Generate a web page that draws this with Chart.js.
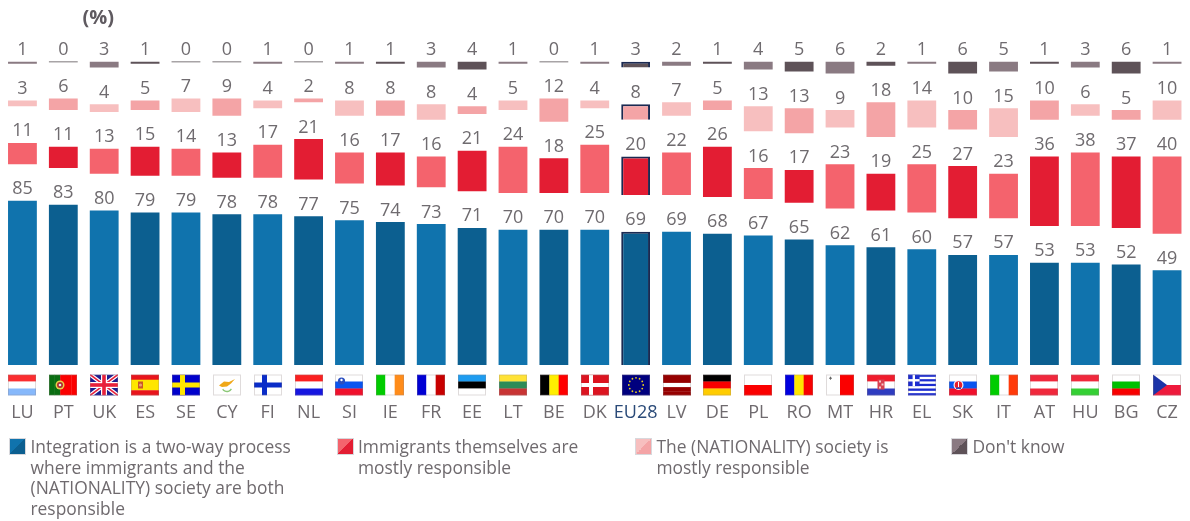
<!DOCTYPE html>
<html>
<head>
<meta charset="utf-8">
<script src="https://cdn.jsdelivr.net/npm/chart.js@4"></script>
<style>
  html, body { margin: 0; padding: 0; background: #fff; }
  #wrap { position: relative; width: 1190px; height: 521px; overflow: hidden; }
  #pct { position: absolute; left: 82.5px; top: 3px; font: bold 20px "Open Sans"; color: #5f5a60; }
  .leg { position: absolute; top: 436px; font: 17.4px/20.5px "Open Sans"; color: #6f6a6e; white-space: nowrap; }
  .leg i { position: absolute; left: -21.5px; top: 2px; width: 15px; height: 15px; border: 1px solid #d8d8dc; }
</style>
</head>
<body>
<div id="wrap">
  <canvas id="chart" width="1190" height="521"></canvas>
  <div id="pct">(%)</div>
</div>
<script>
const countries = ['LU','PT','UK','ES','SE','CY','FI','NL','SI','IE','FR','EE','LT','BE','DK','EU28','LV','DE','PL','RO','MT','HR','EL','SK','IT','AT','HU','BG','CZ']
const twoWay = [85,83,80,79,79,78,78,77,75,74,73,71,70,70,70,69,69,68,67,65,62,61,60,57,57,53,53,52,49]
const immigrants = [11,11,13,15,14,13,17,21,16,17,16,21,24,18,25,20,22,26,16,17,23,19,25,27,23,36,38,37,40]
const society = [3,6,4,5,7,9,4,2,8,8,8,4,5,12,4,8,7,5,13,13,9,18,14,10,15,10,6,5,10]
const dontKnow = [1,0,3,1,0,0,1,0,1,1,3,4,1,0,1,3,2,1,4,5,6,2,1,6,5,1,3,6,1]

const legendTexts = [
  ['Integration is a two-way process','where immigrants and the','(NATIONALITY) society are both','responsible'],
  ['Immigrants themselves are','mostly responsible'],
  ['The (NATIONALITY) society is','mostly responsible'],
  ["Don't know"]
]
const legendLeft = [30.5, 358, 656.5, 972.5]

// light / dark colours, they swap on every second column
const blues = ['#1073ad','#0c5f90']
const reds = ['#f4636d','#e31d33']
const pinks = ['#f7bfbf','#f4a4a6']
const greys = ['#8a7a82','#5e5258']
const zeroLine = '#a8a4a6'
const navy = '#1b2a52'
const euIndex = countries.indexOf('EU28')
// empty band between the stacked parts, in % units
const gap = 19

const band = (label, data, colors) => ({
  label: label,
  data: data,
  stack: 's',
  minBarLength: 1.5,
  backgroundColor: c => data[c.dataIndex] === 0 ? zeroLine : colors[c.dataIndex % 2],
  borderColor: c => c.dataIndex === euIndex ? navy : 'transparent',
  borderWidth: c => c.dataIndex === euIndex ? 2 : 0,
  isBand: true
})
const spacer = () => ({
  data: countries.map(() => gap),
  stack: 's',
  backgroundColor: 'transparent',
  borderWidth: 0
})

//flags, stripes from top to bottom (h) or left to right (v), extra draws the rest
const star = (ctx, x, y, r, col) => {
  ctx.fillStyle = col
  ctx.beginPath()
  ctx.arc(x, y, r, 0, Math.PI * 2)
  ctx.fill()
}
const box = (ctx, col, x, y, w, h) => {
  ctx.fillStyle = col
  ctx.fillRect(x, y, w, h)
}
const crossFlag = (bg, col) => ({
  h: [bg],
  extra: (ctx) => {
    box(ctx, col, 8, 0, 5, 21)
    box(ctx, col, 0, 8, 28, 5)
  }
})
const flags = {
  LU: { h: ['#fb2d30','#ffffff','#86b8fb'] },
  PT: { v: ['#0a6e12','#0a6e12','#fb0000','#fb0000','#fb0000'], extra: (ctx) => {
    star(ctx, 11, 10.5, 4.5, '#e8d24a')
    star(ctx, 11, 10.5, 3, '#b02a30')
    star(ctx, 11, 10.5, 1.3, '#e8e8f0')
  } },
  UK: { h: ['#1c1c8f'], extra: (ctx) => {
    ctx.strokeStyle = '#fff'
    ctx.lineWidth = 4
    ctx.beginPath()
    ctx.moveTo(0, 0); ctx.lineTo(28, 21)
    ctx.moveTo(28, 0); ctx.lineTo(0, 21)
    ctx.stroke()
    ctx.strokeStyle = '#e8203a'
    ctx.lineWidth = 1.6
    ctx.stroke()
    box(ctx, '#fff', 11, 0, 6, 21)
    box(ctx, '#fff', 0, 7.5, 28, 6)
    box(ctx, '#e8203a', 12.2, 0, 3.6, 21)
    box(ctx, '#e8203a', 0, 8.7, 28, 3.6)
  } },
  ES: { h: ['#e8141c','#ffe600','#ffe600','#e8141c'], extra: (ctx) => {
    box(ctx, '#c8572a', 7, 7, 5, 7)
    star(ctx, 9.5, 10.5, 1.6, '#e8a070')
  } },
  SE: { h: ['#0000cc'], extra: (ctx) => {
    box(ctx, '#ffe600', 8, 0, 5, 21)
    box(ctx, '#ffe600', 0, 8, 28, 5)
  } },
  CY: { h: ['#ffffff'], extra: (ctx) => {
    ctx.fillStyle = '#f0a818'
    ctx.beginPath()
    ctx.moveTo(6, 11); ctx.lineTo(11, 7); ctx.lineTo(16, 7.5); ctx.lineTo(22, 4.5)
    ctx.lineTo(18, 9); ctx.lineTo(14, 12); ctx.lineTo(9, 12.5)
    ctx.closePath()
    ctx.fill()
    ctx.strokeStyle = '#8cc878'
    ctx.lineWidth = 1.3
    ctx.beginPath()
    ctx.arc(14, 12, 5, 0.5, 2.6)
    ctx.stroke()
  } },
  FI: crossFlag('#ffffff', '#0a2cc8'),
  NL: { h: ['#fb2020','#ffffff','#1616e0'] },
  SI: { h: ['#ffffff','#0a55f0','#f0102c'], extra: (ctx) => {
    star(ctx, 6.5, 6.5, 3.6, '#2a4ec0')
    star(ctx, 6.5, 5.5, 1.2, '#ffffff')
  } },
  IE: { v: ['#00cc00','#ffffff','#ff8c1a'] },
  FR: { v: ['#0000d4','#ffffff','#c80000'] },
  EE: { h: ['#1e9cf0','#000000','#ffffff'] },
  LT: { h: ['#ffe236','#2e8b57','#c83434'] },
  BE: { v: ['#000000','#ffee00','#ff0000'] },
  DK: { h: ['#dc1420'], extra: (ctx) => {
    box(ctx, '#fff', 8, 0, 4, 21)
    box(ctx, '#fff', 0, 8.5, 28, 4)
  } },
  EU28: { h: ['#00007e'], extra: (ctx) => {
    for (let k = 0; k < 12; k++) {
      let a = k * Math.PI / 6
      star(ctx, 14 + Math.cos(a) * 7.2, 10.5 + Math.sin(a) * 7.2, 0.9, '#e8d020')
    }
  } },
  LV: { h: ['#960000','#960000','#ffffff','#960000','#960000'] },
  DE: { h: ['#000000','#f80000','#ffcc00'] },
  PL: { h: ['#ffffff','#fb0000'] },
  RO: { v: ['#0000e0','#ffe600','#f80000'] },
  MT: { v: ['#ffffff','#fb0000'], extra: (ctx) => {
    box(ctx, '#666', 3, 3.2, 3, 1)
    box(ctx, '#666', 4, 2.2, 1, 3)
  } },
  HR: { h: ['#f01c2c','#ffffff','#2e3cc0'], extra: (ctx) => {
    box(ctx, '#d84050', 10.5, 5, 7, 10)
    box(ctx, '#f6c8c8', 12, 6, 2, 2)
    box(ctx, '#f6c8c8', 14.5, 9, 2, 2)
    box(ctx, '#f6c8c8', 12, 12, 2, 2)
  } },
  EL: { h: ['#1c2cd0','#fff','#1c2cd0','#fff','#1c2cd0','#fff','#1c2cd0','#fff','#1c2cd0'], extra: (ctx) => {
    box(ctx, '#1c2cd0', 0, 0, 11.6, 11.6)
    box(ctx, '#fff', 4.6, 0, 2.4, 11.6)
    box(ctx, '#fff', 0, 4.6, 11.6, 2.4)
  } },
  SK: { h: ['#ffffff','#0a55f0','#f0102c'], extra: (ctx) => {
    star(ctx, 9.5, 10.5, 5, '#f6f6ff')
    star(ctx, 9.5, 10.5, 3.8, '#e8202c')
    box(ctx, '#fff', 9, 7.5, 1, 5)
    box(ctx, '#2a4ec0', 7, 13, 5, 1.5)
  } },
  IT: { v: ['#00cc00','#ffffff','#ff3a0a'] },
  AT: { h: ['#f0283c','#ffffff','#f0283c'] },
  HU: { h: ['#f0283c','#ffffff','#34d034'] },
  BG: { h: ['#ffffff','#00c000','#f80000'] },
  CZ: { h: ['#ffffff','#ee1a3c'], extra: (ctx) => {
    ctx.fillStyle = '#1c34a8'
    ctx.beginPath()
    ctx.moveTo(0, 0); ctx.lineTo(14, 10.5); ctx.lineTo(0, 21)
    ctx.closePath()
    ctx.fill()
  } }
}

const drawFlag = (ctx, f, x, y) => {
  ctx.save()
  ctx.translate(x, y)
  ctx.beginPath()
  ctx.rect(0, 0, 28, 21)
  ctx.clip()
  let list = f.h || f.v
  list.forEach((col, k) => {
    ctx.fillStyle = col
    if (f.h) ctx.fillRect(0, k * 21 / list.length, 28, 21 / list.length + 0.3)
    else ctx.fillRect(k * 28 / list.length, 0, 28 / list.length + 0.3, 21)
  })
  if (f.extra) f.extra(ctx)
  ctx.restore()
  ctx.strokeStyle = 'rgba(150,135,135,0.3)'
  ctx.lineWidth = 1
  ctx.strokeRect(x + 0.5, y + 0.5, 27, 20)
}

const flagRow = {
  id: 'flagRow',
  afterDraw(chart) {
    const ctx = chart.ctx
    const xs = chart.scales.x
    countries.forEach((c, i) => {
      drawFlag(ctx, flags[c], Math.round(xs.getPixelForValue(i) - 14), 374.5)
    })
  }
}

//value on top of each part
const valueLabels = {
  id: 'valueLabels',
  afterDatasetsDraw(chart) {
    const ctx = chart.ctx
    ctx.save()
    ctx.font = '18px "Open Sans"'
    ctx.fillStyle = '#6f6b6f'
    ctx.textAlign = 'center'
    ctx.textBaseline = 'alphabetic'
    chart.data.datasets.forEach((ds, n) => {
      if (!ds.isBand) return
      chart.getDatasetMeta(n).data.forEach((bar, i) => {
        ctx.fillText(ds.data[i], bar.x, bar.y - 6.5)
      })
    })
    ctx.restore()
  }
}

const chart = new Chart(document.getElementById('chart').getContext('2d'), {
  type: 'bar',
  data: {
    labels: countries,
    datasets: [
      band('Integration is a two-way process where immigrants and the (NATIONALITY) society are both responsible', twoWay, blues),
      spacer(),
      band('Immigrants themselves are mostly responsible', immigrants, reds),
      spacer(),
      band('The (NATIONALITY) society is mostly responsible', society, pinks),
      spacer(),
      band("Don't know", dontKnow, greys)
    ]
  },
  options: {
    responsive: false,
    animation: false,
    layout: { padding: { left: 2, right: 2.5, top: 0, bottom: 0 } },
    categoryPercentage: 0.705,
    barPercentage: 1,
    plugins: { legend: { display: false }, tooltip: { enabled: false } },
    scales: {
      x: {
        stacked: true,
        grid: { display: false, drawTicks: false },
        border: { display: false },
        // tick padding also widens the sides of the axis, take that out again
        afterFit: s => {
          s.height = 156
          s.paddingLeft = 0
          s.paddingRight = 0
        },
        ticks: {
          autoSkip: false,
          maxRotation: 0,
          padding: 37,
          font: { family: '"Open Sans"', size: 18 },
          color: c => c.index === euIndex ? '#2a4a78' : '#6f6a6e'
        }
      },
      y: { stacked: true, display: false, min: 0, max: 189 }
    }
  },
  plugins: [flagRow, valueLabels]
})

//legend under the chart
const wrap = document.getElementById('wrap')
const swatches = [blues, reds, pinks, greys]
legendTexts.forEach((lines, i) => {
  let d = document.createElement('div')
  d.className = 'leg'
  d.style.left = legendLeft[i] + 'px'
  let sw = document.createElement('i')
  sw.style.background = 'linear-gradient(to bottom right,' + swatches[i][0] + ' 50%,' + swatches[i][1] + ' 50%)'
  d.appendChild(sw)
  lines.forEach((t, k) => {
    if (k) d.appendChild(document.createElement('br'))
    d.appendChild(document.createTextNode(t))
  })
  wrap.appendChild(d)
})
</script>
</body>
</html>
